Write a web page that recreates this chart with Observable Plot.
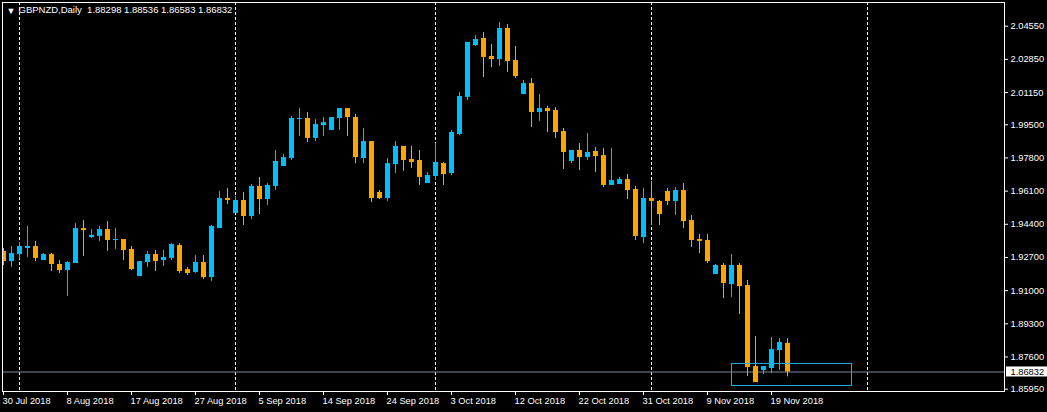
<!DOCTYPE html>
<html>
<head>
<meta charset="utf-8">
<script src="https://cdn.jsdelivr.net/npm/d3@7"></script>
<script src="https://cdn.jsdelivr.net/npm/@observablehq/plot@0.6"></script>
<style>
html, body { margin: 0; padding: 0; background: #000; overflow: hidden; }
#chart svg { display: block; }
</style>
</head>
<body>
<div id="chart"></div>
<script>
// ---------------- data ----------------
const symbol = "GBPNZD";
const timeframe = "Daily";

const opens = [
  1.9301,1.9249,1.9285,1.9316,1.9326,1.9254,1.9285,1.9234,1.9203,1.9239,
  1.9418,1.9372,1.9378,1.9413,1.9357,1.9362,1.9311,1.9172,1.9244,1.9285,
  1.9254,1.9265,1.9331,1.9208,1.9193,1.9244,1.9167,1.9418,1.9572,1.9495,
  1.9562,1.9480,1.9634,1.9567,1.9634,1.9736,1.9777,1.9977,1.9982,1.9880,
  1.9946,1.9921,1.9982,2.0033,1.9987,1.9777,1.9864,1.9603,1.9572,1.9746,
  1.9839,1.9772,1.9767,1.9649,1.9685,1.9751,1.9700,1.9900,2.0090,2.0356,
  2.0392,2.0300,2.0284,2.0443,2.0279,2.0105,2.0161,2.0013,2.0033,2.0023,
  1.9915,1.9762,1.9818,1.9782,1.9813,1.9792,1.9639,1.9644,1.9669,1.9618,
  1.9372,1.9572,1.9557,1.9608,1.9557,1.9613,1.9459,1.9362,1.9357,1.9183,
  1.9229,1.9131,1.9229,1.9126,1.8711,1.8691,1.8701,1.8793,1.88298
];
const highs = [
  1.9316,1.9326,1.9347,1.9429,1.9352,1.9290,1.9290,1.9254,1.9249,1.9444,
  1.9459,1.9413,1.9429,1.9454,1.9418,1.9362,1.9326,1.9249,1.9301,1.9306,
  1.9306,1.9341,1.9341,1.9219,1.9280,1.9280,1.9434,1.9608,1.9623,1.9582,
  1.9603,1.9644,1.9680,1.9649,1.9818,1.9798,1.9992,2.0033,2.0013,1.9977,
  1.9987,1.9987,2.0033,2.0033,2.0003,1.9931,1.9864,1.9613,1.9777,1.9864,
  1.9839,1.9839,1.9818,1.9705,1.9854,1.9757,1.9921,2.0115,2.0372,2.0407,
  2.0423,2.0361,2.0474,2.0464,2.0351,2.0177,2.0187,2.0105,2.0044,2.0038,
  1.9931,1.9818,1.9854,1.9905,1.9834,1.9828,1.9828,1.9680,1.9695,1.9634,
  1.9623,1.9659,1.9562,1.9623,1.9628,1.9649,1.9485,1.9388,1.9388,1.9234,
  1.9239,1.9285,1.9239,1.9152,1.8865,1.8711,1.8860,1.8855,1.88536
];
const lows = [
  1.9229,1.9219,1.9260,1.9270,1.9249,1.9254,1.9198,1.9188,1.9070,1.9239,
  1.9275,1.9367,1.9352,1.9301,1.9311,1.9254,1.9203,1.9172,1.9219,1.9198,
  1.9224,1.9254,1.9188,1.9178,1.9188,1.9157,1.9147,1.9418,1.9541,1.9495,
  1.9434,1.9464,1.9490,1.9536,1.9613,1.9736,1.9767,1.9890,1.9859,1.9864,
  1.9890,1.9921,1.9921,1.9890,1.9751,1.9751,1.9552,1.9567,1.9557,1.9700,
  1.9711,1.9726,1.9639,1.9649,1.9664,1.9639,1.9690,1.9895,2.0074,2.0351,
  2.0192,2.0243,2.0249,2.0218,2.0187,2.0105,1.9936,1.9967,1.9910,1.9880,
  1.9721,1.9751,1.9716,1.9767,1.9705,1.9628,1.9639,1.9644,1.9567,1.9357,
  1.9341,1.9434,1.9434,1.9536,1.9485,1.9418,1.9321,1.9290,1.9239,1.9183,
  1.9060,1.9065,1.8978,1.8660,1.8629,1.8670,1.8675,1.8691,1.86583
];
const closes = [
  1.9249,1.9290,1.9326,1.9326,1.9265,1.9285,1.9234,1.9203,1.9244,1.9418,
  1.9408,1.9383,1.9413,1.9357,1.9362,1.9306,1.9208,1.9249,1.9285,1.9249,
  1.9270,1.9336,1.9198,1.9188,1.9244,1.9167,1.9429,1.9572,1.9562,1.9562,
  1.9480,1.9634,1.9567,1.9639,1.9762,1.9782,1.9982,1.9982,1.9880,1.9951,
  1.9961,1.9987,2.0033,1.9987,1.9782,1.9864,1.9572,1.9572,1.9751,1.9839,
  1.9767,1.9757,1.9680,1.9690,1.9757,1.9695,1.9910,2.0095,2.0372,2.0387,
  2.0295,2.0284,2.0443,2.0274,2.0197,2.0161,2.0013,2.0033,2.0018,1.9910,
  1.9808,1.9818,1.9782,1.9808,1.9787,1.9639,1.9664,1.9669,1.9613,1.9378,
  1.9572,1.9557,1.9490,1.9557,1.9613,1.9454,1.9357,1.9352,1.9249,1.9229,
  1.9137,1.9229,1.9121,1.8706,1.8629,1.8711,1.8798,1.8834,1.86832
];

// x-axis: bar positions of the date labels
const tickBars = [0, 8, 16, 24, 32, 40, 48, 56, 64, 72, 80, 88, 96];
const tickLabels = [
  "30 Jul 2018", "8 Aug 2018", "17 Aug 2018", "27 Aug 2018", "5 Sep 2018",
  "14 Sep 2018", "24 Sep 2018", "3 Oct 2018", "12 Oct 2018", "22 Oct 2018",
  "31 Oct 2018", "9 Nov 2018", "19 Nov 2018"
];
// y-axis price labels
const priceTicks = [2.0455, 2.0285, 2.0115, 1.9950, 1.9780, 1.9610, 1.9440, 1.9270, 1.9100, 1.8930, 1.8760, 1.8595];
// monthly period separators (bar positions)
const separatorBars = [2, 29, 54, 81, 108];
// rectangle object drawn on chart
const boxBars = [91, 106];
const boxPrices = [1.8727, 1.8614];

// ---------------- chart ----------------
const candles = opens.map((o, i) => ({i, o, h: highs[i], l: lows[i], c: closes[i]}));
const bulls = candles.filter(d => d.c >= d.o);
const bears = candles.filter(d => d.c < d.o);
const last = candles[candles.length - 1];

const bullColor = "#00bfff";
const bearColor = "#ffa500";
const xDomain = [-0.125, 125.125];
const yDomain = [1.85832, 2.05765];
const fmt = v => v.toFixed(5);

const chart = Plot.plot({
  width: 1047,
  height: 412,
  marginLeft: 2,
  marginTop: 2,
  marginRight: 43,
  marginBottom: 21,
  style: {background: "#000", color: "#fff", fontFamily: "'Liberation Sans', Arial, sans-serif", fontSize: "9.3px"},
  x: {type: "linear", domain: xDomain, axis: null},
  y: {type: "linear", domain: yDomain, axis: null},
  marks: [
    Plot.ruleX(separatorBars, {x: d => d, stroke: "#fff", strokeDasharray: "3,2"}),
    Plot.ruleY([last.c], {stroke: "#778899"}),
    Plot.ruleX(bulls, {x: "i", y1: "l", y2: "h", stroke: bullColor, clip: true}),
    Plot.ruleX(bears, {x: "i", y1: "l", y2: "h", stroke: bearColor, clip: true}),
    Plot.rect(bulls, {x1: d => d.i - 0.3125, x2: d => d.i + 0.3125, y1: "o", y2: "c", fill: bullColor, dx: 0.5, clip: true}),
    Plot.rect(bears, {x1: d => d.i - 0.3125, x2: d => d.i + 0.3125, y1: "o", y2: "c", fill: bearColor, dx: 0.5, clip: true}),
    Plot.rect([0], {x1: () => boxBars[0], x2: () => boxBars[1], y1: () => boxPrices[0], y2: () => boxPrices[1],
      fill: "none", stroke: "#1fb0e8", strokeWidth: 1, dx: 0.5, dy: 0.5}),
    Plot.frame({stroke: "#fff"}),
    // bottom axis ticks and labels
    Plot.ruleX(tickBars, {x: d => d, y1: yDomain[0], y2: yDomain[0], insetBottom: -4, stroke: "#fff"}),
    Plot.text(tickBars, {x: d => d, y: yDomain[0], text: (d, i) => tickLabels[i], textAnchor: "start", dx: -1, dy: 10, fill: "#fff"}),
    // right axis ticks and labels
    Plot.ruleY(priceTicks, {y: d => d, x1: xDomain[1], x2: xDomain[1], insetRight: -4, stroke: "#fff"}),
    Plot.text(priceTicks, {y: d => d, x: xDomain[1], text: d => fmt(d), textAnchor: "start", dx: 6, fill: "#fff"}),
    // current price label
    Plot.rect([last.c], {y1: d => d, y2: d => d, x1: xDomain[1], x2: xDomain[1],
      insetLeft: 2, insetRight: -43, insetTop: -5, insetBottom: -5, fill: "#fff"}),
    Plot.text([last.c], {y: d => d, x: xDomain[1], text: d => fmt(d), textAnchor: "start", dx: 6, fill: "#000"}),
    // title
    Plot.text([last], {frameAnchor: "top-left", text: () => "\u25BC", dx: 4, dy: 5, fontSize: 9, fill: "#fff"}),
    Plot.text([last], {frameAnchor: "top-left",
      text: d => `${symbol},${timeframe}  ${fmt(d.o)} ${fmt(d.h)} ${fmt(d.l)} ${fmt(d.c)}`,
      dx: 16, dy: 4, fontSize: 9.5, fill: "#fff"})
  ]
});
document.getElementById("chart").appendChild(chart);
</script>
</body>
</html>
